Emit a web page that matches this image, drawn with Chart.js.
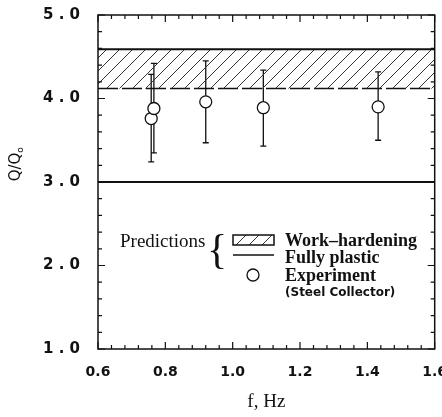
<!DOCTYPE html>
<html>
<head>
<meta charset="utf-8">
<script src="https://cdn.jsdelivr.net/npm/chart.js@4"></script>
<style>
  body { margin: 0; background: #fff; }
  #wrap { position: relative; width: 442px; height: 417px; }
</style>
</head>
<body>
<div id="wrap"><canvas id="chart"></canvas></div>
<script>
// experimental points (steel collector)
const freq = [0.758, 0.766, 0.92, 1.091, 1.432];
const ratio = [3.76, 3.88, 3.96, 3.89, 3.90];
const errHigh = [4.29, 4.42, 4.45, 4.34, 4.32];
const errLow = [3.24, 3.35, 3.47, 3.43, 3.50];

// predictions
const workHardening = [4.12, 4.59]; // lower, upper
const fullyPlastic = 3.0;

const xRange = [0.6, 1.6];
const yRange = [1.0, 5.0];

const ink = "#111";

function hatch() {
  const c = document.createElement("canvas");
  c.width = 13; c.height = 13;
  const g = c.getContext("2d");
  g.strokeStyle = "#333";
  g.lineWidth = 1;
  g.beginPath();
  g.moveTo(-1, 14); g.lineTo(14, -1);
  g.stroke();
  return g.createPattern(c, "repeat");
}
const hatchFill = hatch();

// frame + inward ticks on all four sides
const framePlugin = {
  id: "frame",
  afterDraw(chart) {
    const { ctx, chartArea: a, scales } = chart;
    const xs = scales.x, ys = scales.y;
    ctx.save();
    ctx.strokeStyle = ink;
    ctx.lineWidth = 1.5;
    ctx.strokeRect(a.left, a.top, a.right - a.left, a.bottom - a.top);
    ctx.lineWidth = 1.2;
    ctx.beginPath();
    for (let i = 0; i <= 25; i++) {
      const v = xRange[0] + i * 0.04;
      const px = xs.getPixelForValue(v);
      const len = i % 5 === 0 ? 7 : 4;
      ctx.moveTo(px, a.bottom); ctx.lineTo(px, a.bottom - len);
      ctx.moveTo(px, a.top); ctx.lineTo(px, a.top + len);
    }
    for (let i = 0; i <= 20; i++) {
      const v = yRange[0] + i * 0.2;
      const py = ys.getPixelForValue(v);
      const len = i % 5 === 0 ? 7 : 4;
      ctx.moveTo(a.left, py); ctx.lineTo(a.left + len, py);
      ctx.moveTo(a.right, py); ctx.lineTo(a.right - len, py);
    }
    ctx.stroke();

    // legend
    ctx.fillStyle = ink;
    ctx.textBaseline = "middle";
    ctx.font = "19px 'Liberation Serif', serif";
    ctx.textAlign = "left";
    ctx.fillText("Predictions", 120, 242);
    ctx.font = "42px 'Liberation Serif', serif";
    ctx.fillText("{", 207, 252);
    // hatched swatch
    ctx.fillStyle = hatchFill;
    ctx.fillRect(233, 235, 41, 10);
    ctx.strokeStyle = ink;
    ctx.lineWidth = 1.5;
    ctx.strokeRect(233, 235, 41, 10);
    ctx.beginPath();
    ctx.moveTo(233, 255); ctx.lineTo(274, 255);
    ctx.stroke();
    ctx.beginPath();
    ctx.arc(253, 275, 6, 0, Math.PI * 2);
    ctx.lineWidth = 1.3;
    ctx.stroke();
    ctx.fillStyle = ink;
    ctx.font = "bold 18px 'Liberation Serif', serif";
    ctx.fillText("Work\u2013hardening", 285, 241);
    ctx.fillText("Fully plastic", 285, 258);
    ctx.fillText("Experiment", 285, 276);
    ctx.font = "bold 12px 'DejaVu Sans', sans-serif";
    ctx.fillText("(Steel Collector)", 285, 293);

    // y title Q/Qo
    ctx.save();
    ctx.translate(16, 164);
    ctx.rotate(-Math.PI / 2);
    ctx.font = "15px 'DejaVu Sans', sans-serif";
    ctx.textAlign = "center";
    ctx.fillText("Q/Q", -3, 0);
    ctx.font = "9px 'DejaVu Sans', sans-serif";
    ctx.fillText("o", 14, 5);
    ctx.restore();
    ctx.restore();
  }
};

const errorBarPlugin = {
  id: "errorBars",
  beforeDatasetsDraw(chart) {
    const { ctx, scales } = chart;
    ctx.save();
    ctx.strokeStyle = ink;
    ctx.lineWidth = 1.3;
    ctx.beginPath();
    freq.forEach((f, i) => {
      const px = scales.x.getPixelForValue(f);
      const hi = scales.y.getPixelForValue(errHigh[i]);
      const lo = scales.y.getPixelForValue(errLow[i]);
      ctx.moveTo(px, hi); ctx.lineTo(px, lo);
      ctx.moveTo(px - 3, hi); ctx.lineTo(px + 3, hi);
      ctx.moveTo(px - 3, lo); ctx.lineTo(px + 3, lo);
    });
    ctx.stroke();
    ctx.restore();
  }
};

new Chart(document.getElementById("chart"), {
  type: "scatter",
  data: {
    datasets: [
      {
        type: "line",
        label: "Work-hardening",
        data: xRange.map(x => ({ x, y: workHardening[1] })),
        borderColor: ink,
        borderWidth: 2,
        backgroundColor: hatchFill,
        fill: { value: workHardening[0] },
        pointRadius: 0
      },
      {
        type: "line",
        label: "Work-hardening lower",
        data: xRange.map(x => ({ x, y: workHardening[0] })),
        borderColor: ink,
        borderWidth: 1.5,
        borderDash: [20, 4],
        pointRadius: 0,
        fill: false
      },
      {
        type: "line",
        label: "Fully plastic",
        data: xRange.map(x => ({ x, y: fullyPlastic })),
        borderColor: ink,
        borderWidth: 2,
        pointRadius: 0,
        fill: false
      },
      {
        label: "Experiment",
        data: freq.map((f, i) => ({ x: f, y: ratio[i] })),
        pointRadius: 6,
        pointBackgroundColor: "#fff",
        pointBorderColor: ink,
        pointBorderWidth: 1.3
      }
    ]
  },
  options: {
    responsive: true,
    maintainAspectRatio: false,
    animation: false,
    layout: { padding: { top: 15, right: 6 } },
    plugins: { legend: { display: false }, tooltip: { enabled: false } },
    scales: {
      x: {
        type: "linear",
        min: xRange[0],
        max: xRange[1],
        grid: { display: false, drawTicks: false },
        border: { display: false },
        ticks: {
          stepSize: 0.2,
          padding: 15,
          color: ink,
          font: { family: "'DejaVu Sans', sans-serif", size: 14, weight: "bold" },
          callback: v => v.toFixed(1)
        },
        title: {
          display: true,
          text: "f, Hz",
          color: ink,
          padding: { top: 16 },
          font: { family: "'Liberation Serif', serif", size: 19 }
        },
        afterFit(s) { s.height = 68; s.paddingLeft = 0; s.paddingRight = 0; }
      },
      y: {
        min: yRange[0],
        max: yRange[1],
        grid: { display: false, drawTicks: false },
        border: { display: false },
        ticks: {
          stepSize: 1,
          padding: 18,
          color: ink,
          font: { family: "'DejaVu Sans', sans-serif", size: 15, weight: "bold" },
          callback: v => v.toFixed(1).replace(".", " . ")
        },
        afterFit(s) { s.width = 98; s.paddingTop = 0; s.paddingBottom = 0; }
      }
    }
  },
  plugins: [errorBarPlugin, framePlugin]
});
</script>
</body>
</html>
